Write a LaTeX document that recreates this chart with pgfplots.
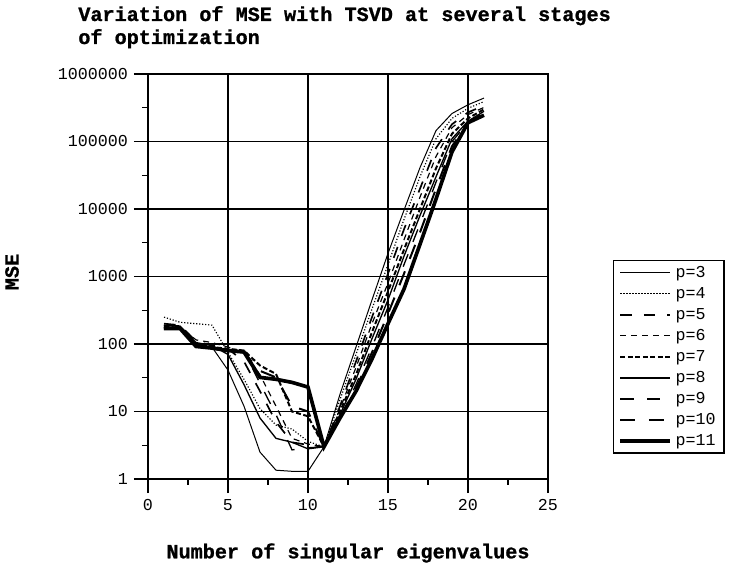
\documentclass[border=0pt]{standalone}
\usepackage{pgfplots}
\pgfplotsset{compat=1.18}
\usepackage{fontspec}
\setmainfont{Liberation Mono}
\newfontfamily\heavyfont{Liberation Mono Bold}[FakeBold=1]

% MSE of the truncated SVD against the number of kept singular values,
% one series per optimisation stage p
\pgfplotstableread{
k    p3      p4      p5      p6      p7      p8      p9      p10     p11
1    180     250     200     190     180     190     175     170     170
2    180     210     190     180     175     185     170     170     170
3    100     200     110     115     100     105     95      95      92
4    90      190     95      105     90      95      88      85      87
5    41      75      85      90      85      70      82      80      80
6    12      30      55      75      80      25      78      75      76
7    2.5     11      20      35      48      8       26      40      32
8    1.35    6.3     7       12      36      4       9       32      30
9    1.3     5.5     3.5     4       10      3.5     2.7     12      27
10   1.3     3.6     3.2     3.3     8.5     2.8     2.9     10      23
11   3       3       3       3       3       3       3       3       3
12   18      15      12      11      10      9       8       8       8
13   90      70      55      45      35      30      25      22      20
14   450     330     250     200     150     120     90      75      60
15   2200    1500    1100    800     600     450     350     280     200
16   9600    7000    5000    3500    2500    2000    1500    1100    650
17   41000   30000   20000   15000   10000   8000    6000    4500    3000
18   145000  110000  80000   60000   40000   30000   25000   20000   14000
19   260000  220000  180000  160000  130000  110000  100000  85000   70000
20   350000  310000  270000  250000  220000  200000  190000  190000  190000
21   440000  390000  340000  320000  300000  280000  270000  260000  245000
}\msedata

\begin{document}
\begin{tikzpicture}
\path[use as bounding box] (0,0) rectangle (437.4pt,343.2pt);
\begin{axis}[
  at={(88.8pt,55.8pt)}, anchor=south west,
  scale only axis, width=240pt, height=243pt,
  xmin=0, xmax=25, ymin=1, ymax=1000000, ymode=log,
  xtick={0,5,10,15,20,25},
  xticklabels={0,5,10,15,20,25},
  minor xtick={2.5,7.5,12.5,17.5,22.5},
  ytick={1,10,100,1000,10000,100000,1000000},
  yticklabels={1,10,100,1000,10000,100000,1000000},
  minor ytick={3.162,31.62,316.2,3162,31623,316228},
  tick pos=left, tick align=outside,
  major tick length=8.5pt, minor tick length=3.6pt,
  every tick/.style={black, line width=0.7pt},
  grid=major,
  major grid style={black, line width=0.7pt},
  axis line style={black, line width=0.8pt},
  ticklabel style={font=\fontsize{10}{12}\selectfont},
  yticklabel style={anchor=east},
  xlabel={Number of singular eigenvalues},
  ylabel={MSE},
  xlabel style={at={(axis description cs:0.5,-0.1827)}, anchor=center,
    font=\fontsize{12.1}{14}\heavyfont},
  ylabel style={at={(axis description cs:-0.34,0.511)}, anchor=center,
    font=\fontsize{12.1}{14}\heavyfont},
  legend cell align=left,
  legend image code/.code={\draw[#1] (0pt,0pt) -- (30pt,0pt);},
  legend style={at={(axis description cs:1.1625,0.5407)}, anchor=north west,
    draw=black, line width=0.8pt, font=\fontsize{10}{12}\selectfont,
    inner xsep=3pt, inner ysep=1pt, row sep=0pt,
    nodes={text height=7.5pt, text depth=2.5pt, inner ysep=1.3pt}},
]
\addplot[black, line width=0.6pt] table[x=k, y=p3] {\msedata};
\addlegendentry{p=3}
\addplot[black, line width=0.7pt, dash pattern=on 0.7pt off 1.1pt] table[x=k, y=p4] {\msedata};
\addlegendentry{p=4}
\addplot[black, line width=1pt, dash pattern=on 7pt off 7pt] table[x=k, y=p5] {\msedata};
\addlegendentry{p=5}
\addplot[black, line width=0.7pt, dash pattern=on 3.6pt off 3pt] table[x=k, y=p6] {\msedata};
\addlegendentry{p=6}
\addplot[black, line width=1.2pt, dash pattern=on 3pt off 1.5pt] table[x=k, y=p7] {\msedata};
\addlegendentry{p=7}
\addplot[black, line width=0.8pt] table[x=k, y=p8] {\msedata};
\addlegendentry{p=8}
\addplot[black, line width=0.8pt, dash pattern=on 8pt off 8pt] table[x=k, y=p9] {\msedata};
\addlegendentry{p=9}
\addplot[black, line width=1.2pt, dash pattern=on 9pt off 8pt] table[x=k, y=p10] {\msedata};
\addlegendentry{p=10}
\addplot[black, line width=2.2pt] table[x=k, y=p11] {\msedata};
\addlegendentry{p=11}
\end{axis}
\node[anchor=base west, font=\fontsize{12.1}{14}\heavyfont, inner sep=0pt]
  at (46.8pt,330.6pt) {Variation of MSE with TSVD at several stages};
\node[anchor=base west, font=\fontsize{12.1}{14}\heavyfont, inner sep=0pt]
  at (46.8pt,316.8pt) {of optimization};
\end{tikzpicture}
\end{document}
